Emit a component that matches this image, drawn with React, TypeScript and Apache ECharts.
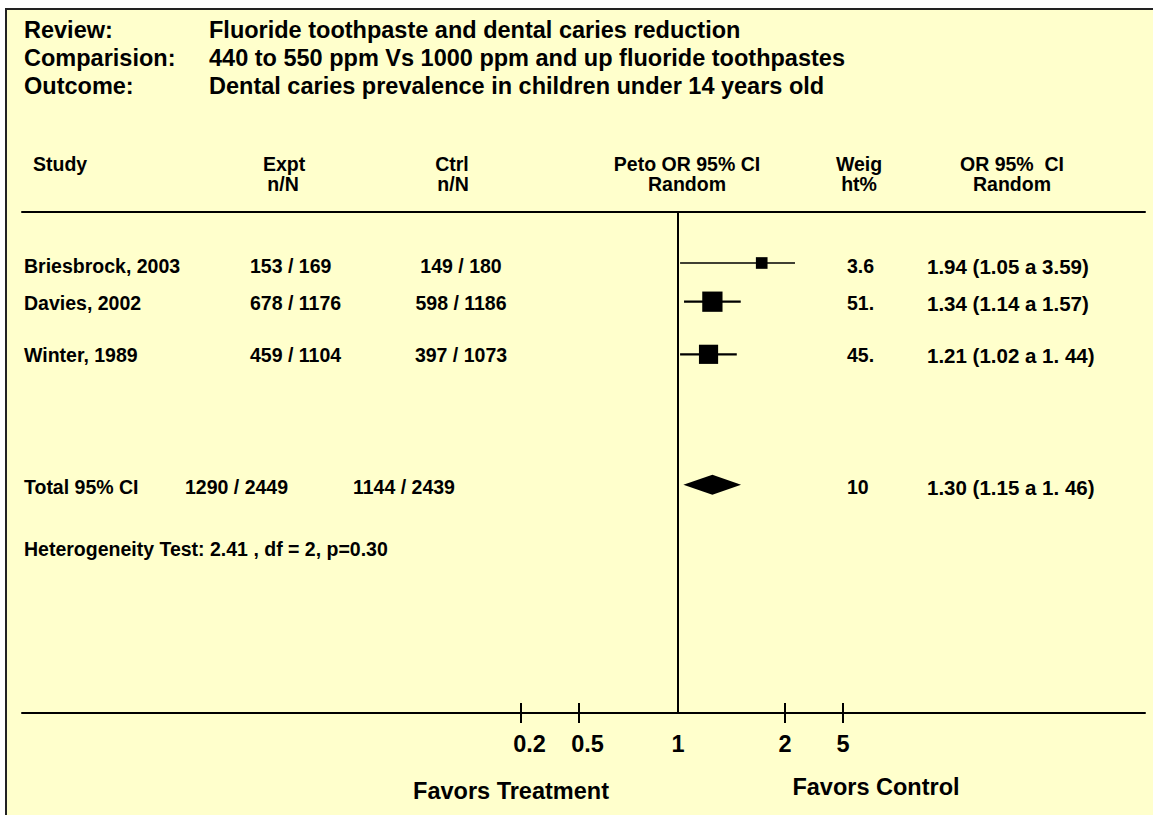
import React, { useEffect, useRef } from "react";
import * as echarts from "echarts";

// ---- data ----
const titleLabels = ["Review:", "Comparision:", "Outcome:"];
const titleValues = [
  "Fluoride toothpaste and dental caries reduction",
  "440 to 550 ppm Vs 1000 ppm and up fluoride toothpastes",
  "Dental caries prevalence in children under 14 years old",
];
const studies = ["Briesbrock, 2003", "Davies, 2002", "Winter, 1989"];
const exptNN = ["153 / 169", "678 / 1176", "459 / 1104"];
const ctrlNN = ["149 / 180", "598 / 1186", "397 / 1073"];
const weights = [3.6, 51, 45];
const weightText = ["3.6", "51.", "45."];
const orText = ["1.94 (1.05 a 3.59)", "1.34 (1.14 a 1.57)", "1.21 (1.02 a 1. 44)"];
// plotted positions on the drawn (display) axis; 1 -> 0, 2 -> 1
const estPlot = [0.782, 0.321, 0.285];
const loPlot = [0.019, 0.056, 0.019];
const hiPlot = [1.093, 0.586, 0.549];
const rowPlot = [1.342, 2.36, 3.745];
const totalLabel = "Total 95% CI";
const totalExpt = "1290 / 2449";
const totalCtrl = "1144 / 2439";
const totalWeight = "10";
const totalOrText = "1.30 (1.15 a 1. 46)";
const totalEst = 0.321;
const totalLo = 0.05;
const totalHi = 0.589;
const totalRow = 7.18;
const heterogeneity = "Heterogeneity Test: 2.41 , df = 2, p=0.30";
const tickLabels = ["0.2", "0.5", "1", "2", "5"];
const tickPos = [-1.467, -0.925, 0, 1, 1.542];
const favors = ["Favors Treatment", "Favors Control"];

const FONT = "'Liberation Sans', Arial, Helvetica, sans-serif";

function txt(text: string, x: number, y: number, size: number, align: string = "left") {
  return {
    type: "text",
    x,
    y,
    silent: true,
    style: {
      text,
      fill: "#000",
      font: `bold ${size}px ${FONT}`,
      align,
      verticalAlign: "middle",
    },
  };
}

export default function App() {
  const ref = useRef<HTMLDivElement>(null);
  useEffect(() => {
    if (!ref.current) return;
    const chart = echarts.init(ref.current, null, { renderer: "svg" });

    const graphics: any[] = [
      { type: "rect", shape: { x: 0, y: 0, width: 1153, height: 8 }, style: { fill: "#fff" }, silent: true },
      { type: "rect", shape: { x: 0, y: 0, width: 5, height: 815 }, style: { fill: "#fff" }, silent: true },
      { type: "line", shape: { x1: 5, y1: 9, x2: 1153, y2: 9 }, style: { stroke: "#222", lineWidth: 2 }, silent: true },
      { type: "line", shape: { x1: 6, y1: 8, x2: 6, y2: 815 }, style: { stroke: "#222", lineWidth: 2 }, silent: true },
    ];
    const titleY = [30, 58, 86];
    titleLabels.forEach((t, i) => {
      graphics.push(txt(t, 24, titleY[i], 23.5));
      graphics.push(txt(titleValues[i], 209, titleY[i], 23.5));
    });
    const H = 19.5;
    // headers
    graphics.push(txt("Study", 33, 164, H));
    graphics.push(txt("Expt", 284, 164, H, "center"));
    graphics.push(txt("n/N", 283, 184, H, "center"));
    graphics.push(txt("Ctrl", 452, 164, H, "center"));
    graphics.push(txt("n/N", 453, 184, H, "center"));
    graphics.push(txt("Peto OR 95% CI", 687, 164, H, "center"));
    graphics.push(txt("Random", 687, 184, H, "center"));
    graphics.push(txt("Weig", 859, 164, H, "center"));
    graphics.push(txt("ht%", 859, 184, H, "center"));
    graphics.push(txt("OR 95%  CI", 1012, 164, H, "center"));
    graphics.push(txt("Random", 1012, 184, H, "center"));
    const rowTextY = [266, 303, 355];
    studies.forEach((s, i) => {
      graphics.push(txt(s, 24, rowTextY[i], H));
      graphics.push(txt(exptNN[i], 250, rowTextY[i], H));
      graphics.push(txt(ctrlNN[i], 461, rowTextY[i], H, "center"));
      graphics.push(txt(weightText[i], 847, rowTextY[i], H));
      graphics.push(txt(orText[i], 927, rowTextY[i], 20.5));
    });
    graphics.push(txt(totalLabel, 24, 487, H));
    graphics.push(txt(totalExpt, 185, 487, H));
    graphics.push(txt(totalCtrl, 353, 487, H));
    graphics.push(txt(totalWeight, 847, 487, H));
    graphics.push(txt(totalOrText, 927, 487, 20.5));
    graphics.push(txt(heterogeneity, 24, 549, H));
    graphics.push(txt(favors[0], 511, 791, 23.5, "center"));
    graphics.push(txt(favors[1], 876, 787, 23.5, "center"));

    const labelFor = (v: number) => {
      const i = tickPos.findIndex((p) => Math.abs(p - v) < 1e-6);
      if (i < 0) return "";
      return tickPos[i] < 0 ? `{s|${tickLabels[i]}}` : `{n|${tickLabels[i]}}`;
    };
    const crossTicks = tickPos.filter((p) => p !== 0);

    const xCommon = { type: "value", min: -6.131, max: 4.364, splitLine: { show: false } };
    const labelFont = { color: "#000", fontWeight: "bold", fontSize: 23.5, fontFamily: FONT };

    chart.setOption({
      animation: false,
      backgroundColor: "#FFFFCC",
      grid: { left: 22, right: 8, top: 212, bottom: 102, containLabel: false },
      xAxis: [
        {
          ...xCommon,
          position: "bottom",
          axisLine: { show: true, onZero: false, lineStyle: { color: "#000", width: 2 } },
          axisTick: { show: true, inside: true, length: 10, customValues: crossTicks, lineStyle: { color: "#000", width: 2 } },
          axisLabel: {
            show: true,
            customValues: tickPos,
            formatter: (v: number) => labelFor(v),
            margin: 19,
            ...labelFont,
            rich: {
              s: { ...labelFont, padding: [0, 0, 0, 17] },
              n: { ...labelFont },
            },
          },
        },
        {
          ...xCommon,
          position: "bottom",
          axisLine: { show: false, onZero: false },
          axisTick: { show: true, inside: false, length: 10, customValues: crossTicks, lineStyle: { color: "#000", width: 2 } },
          axisLabel: { show: false },
        },
        {
          ...xCommon,
          position: "top",
          axisLine: { show: true, onZero: false, lineStyle: { color: "#000", width: 2 } },
          axisTick: { show: false },
          axisLabel: { show: false },
        },
      ],
      yAxis: { type: "value", inverse: true, min: 0, max: 13.184, show: false },
      graphic: graphics,
      series: [
        {
          type: "custom",
          z: 3,
          silent: true,
          encode: { x: [0, 1], y: 2 },
          data: studies.map((_, i) => [loPlot[i], hiPlot[i], rowPlot[i], weights[i]]),
          renderItem: (params: any, api: any) => {
            const a = api.coord([api.value(0), api.value(2)]);
            const b = api.coord([api.value(1), api.value(2)]);
            return {
              type: "line",
              shape: { x1: a[0], y1: a[1], x2: b[0], y2: b[1] },
              style: { stroke: "#000", lineWidth: api.value(3) < 10 ? 1.4 : 2.2 },
            };
          },
        },
        {
          type: "scatter",
          z: 4,
          silent: true,
          symbol: "rect",
          symbolSize: (v: number[]) => 11 + v[2] / 5.5,
          itemStyle: { color: "#000", opacity: 1 },
          data: studies.map((_, i) => [estPlot[i], rowPlot[i], weights[i]]),
          markLine: {
            silent: true,
            symbol: ["none", "none"],
            label: { show: false },
            lineStyle: { color: "#000", width: 2, type: "solid", opacity: 1 },
            data: [{ xAxis: 0 }],
          },
        },
        {
          type: "custom",
          z: 4,
          silent: true,
          encode: { x: [0, 1, 2], y: 3 },
          data: [[totalLo, totalHi, totalEst, totalRow]],
          renderItem: (params: any, api: any) => {
            const l = api.coord([api.value(0), api.value(3)]);
            const r = api.coord([api.value(1), api.value(3)]);
            const c = api.coord([api.value(2), api.value(3)]);
            return {
              type: "polygon",
              shape: { points: [[l[0], l[1]], [c[0], c[1] - 10], [r[0], r[1]], [c[0], c[1] + 10]] },
              style: { fill: "#000" },
            };
          },
        },
      ],
    });
    return () => chart.dispose();
  }, []);
  return (
    <div
      ref={ref}
      style={{ position: "absolute", left: 0, top: 0, width: 1153, height: 815 }}
    />
  );
}
